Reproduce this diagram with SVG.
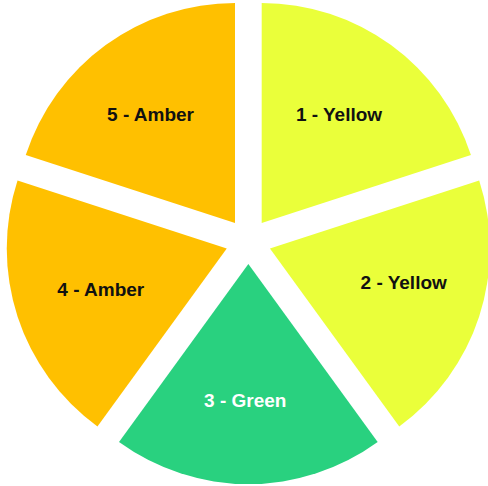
<svg xmlns="http://www.w3.org/2000/svg" width="488" height="486" viewBox="0 0 488 486">
  <style>
    .yellow { fill: #EAFF3A; }
    .amber { fill: #FFC000; }
    .green { fill: #29D17F; }
    .lbl { font-family: "Liberation Sans", Arial, sans-serif; font-weight: bold; font-size: 19px; text-anchor: middle; fill: #111111; }
    .lbl.light { fill: #FFFFFF; }
  </style>
  <rect width="488" height="486" fill="#FFFFFF"/>
  <g id="connectors"></g>
  <g id="slice1">
    <path class="yellow" d="M261.69,223.04 L261.69,3.04 A220,220 0 0 1 470.93,155.06 Z"/>
    <text class="lbl" x="339" y="120.7">1 - Yellow</text>
  </g>
  <g id="slice2">
    <path class="yellow" d="M269.94,248.41 L479.18,180.43 A220,220 0 0 1 399.26,426.39 Z"/>
    <text class="lbl" x="403.7" y="288.5">2 - Yellow</text>
  </g>
  <g id="slice3">
    <path class="green" d="M248.35,264.1 L377.67,442.08 A220,220 0 0 1 119.03,442.08 Z"/>
    <text class="lbl light" x="245.3" y="407">3 - Green</text>
  </g>
  <g id="slice4">
    <path class="amber" d="M226.76,248.41 L97.44,426.39 A220,220 0 0 1 17.52,180.43 Z"/>
    <text class="lbl" x="100.8" y="295.7">4 - Amber</text>
  </g>
  <g id="slice5">
    <path class="amber" d="M235.01,223.04 L25.77,155.06 A220,220 0 0 1 235.01,3.04 Z"/>
    <text class="lbl" x="150.5" y="121">5 - Amber</text>
  </g>
</svg>
